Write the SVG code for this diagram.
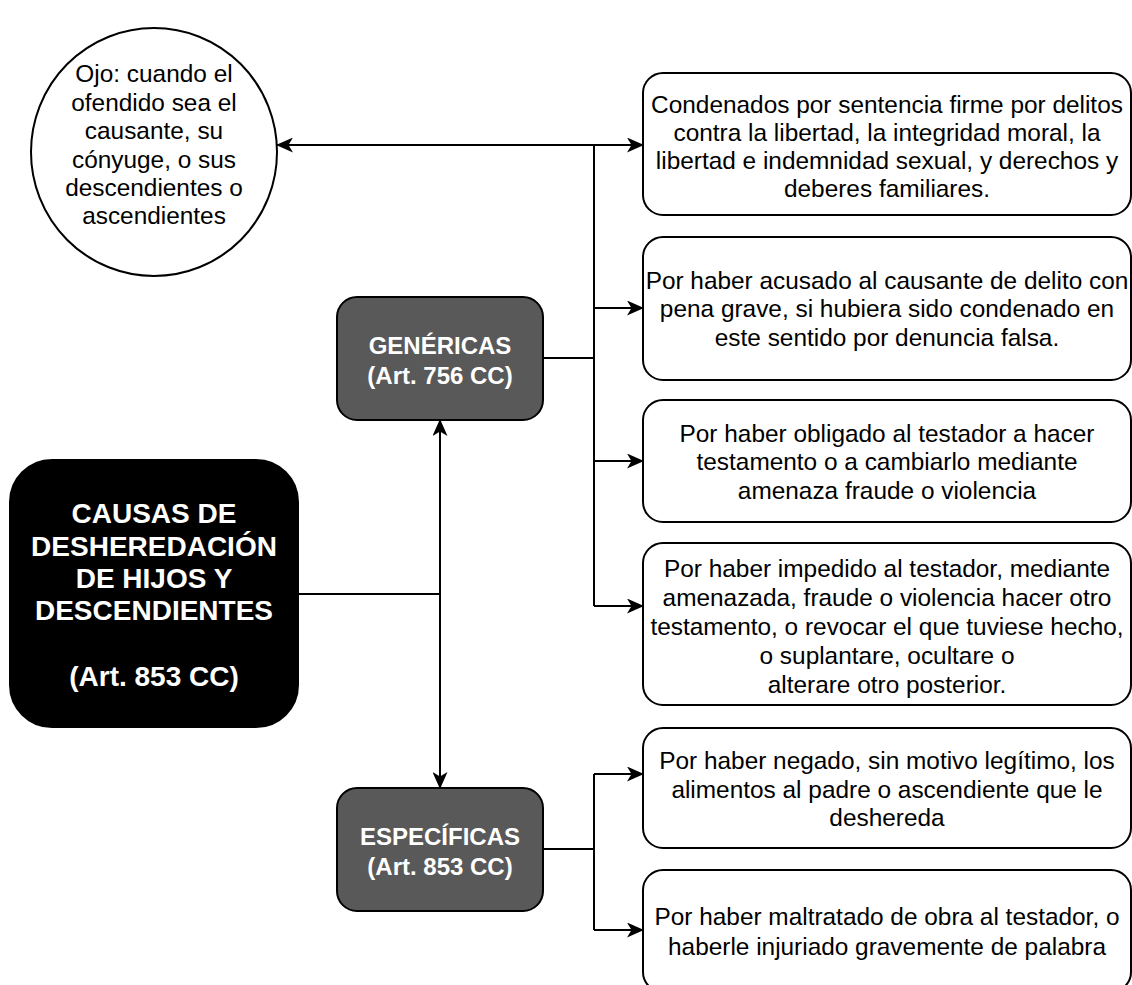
<svg xmlns="http://www.w3.org/2000/svg" width="1132" height="985" viewBox="0 0 1132 985">
<style>
.t{font-family:"Liberation Sans",Arial,sans-serif;font-size:24.4px;fill:#000;text-anchor:middle;dominant-baseline:central}
.w{font-family:"Liberation Sans",Arial,sans-serif;font-weight:bold;fill:#fff;text-anchor:middle;dominant-baseline:central}
.box{fill:#fff;stroke:#000;stroke-width:2}
.grey{fill:#595959;stroke:#000;stroke-width:2}
.ln{fill:none;stroke:#000;stroke-width:2}
</style>
<defs>
<marker id="ah" viewBox="0 0 17 15" refX="16" refY="7.5" markerWidth="17" markerHeight="15" markerUnits="userSpaceOnUse" orient="auto-start-reverse">
<path d="M0,0 L17,7.5 L0,15 L4.5,7.5 Z" fill="#000"/>
</marker>
</defs>
<rect width="1132" height="985" fill="#fff"/>
<g id="connectors">
<path class="ln" d="M277,145 L643,145" marker-start="url(#ah)" marker-end="url(#ah)"/>
<path class="ln" d="M543,358 L594,358"/>
<path class="ln" d="M594,145 L594,606"/>
<path class="ln" d="M594,308 L643,308" marker-end="url(#ah)"/>
<path class="ln" d="M594,461 L643,461" marker-end="url(#ah)"/>
<path class="ln" d="M594,606 L643,606" marker-end="url(#ah)"/>
<path class="ln" d="M298,594 L440,594"/>
<path class="ln" d="M440,420 L440,788" marker-start="url(#ah)" marker-end="url(#ah)"/>
<path class="ln" d="M543,849 L594,849"/>
<path class="ln" d="M594,774 L594,930"/>
<path class="ln" d="M594,774 L643,774" marker-end="url(#ah)"/>
<path class="ln" d="M594,930 L643,930" marker-end="url(#ah)"/>
</g>
<g id="note">
<ellipse class="box" cx="154" cy="152" rx="123" ry="124"/>
<text class="t"><tspan x="154" y="73">Ojo: cuando el</tspan><tspan x="154" y="101.5">ofendido sea el</tspan><tspan x="154" y="130">causante, su</tspan><tspan x="154" y="158.5">cónyuge, o sus</tspan><tspan x="154" y="187">descendientes o</tspan><tspan x="154" y="215">ascendientes</tspan></text>
</g>
<g id="main">
<rect x="10" y="460" width="288" height="267" rx="42" ry="42" fill="#000" stroke="#000" stroke-width="2"/>
<text class="w" style="font-size:28px"><tspan x="154" y="513">CAUSAS DE</tspan><tspan x="154" y="546">DESHEREDACIÓN</tspan><tspan x="154" y="578">DE HIJOS Y</tspan><tspan x="154" y="610">DESCENDIENTES</tspan><tspan x="154" y="676">(Art. 853 CC)</tspan></text>
</g>
<g id="genericas">
<rect class="grey" x="337" y="297" width="206" height="123" rx="20" ry="20"/>
<text class="w" style="font-size:24px"><tspan x="440" y="345">GENÉRICAS</tspan><tspan x="440" y="375">(Art. 756 CC)</tspan></text>
</g>
<g id="especificas">
<rect class="grey" x="337" y="788" width="206" height="123" rx="20" ry="20"/>
<text class="w" style="font-size:24px"><tspan x="440" y="836">ESPECÍFICAS</tspan><tspan x="440" y="866">(Art. 853 CC)</tspan></text>
</g>
<g id="c1">
<rect class="box" x="643" y="73" width="488" height="142" rx="20" ry="20"/>
<text class="t"><tspan x="887" y="104">Condenados por sentencia firme por delitos</tspan><tspan x="887" y="132">contra la libertad, la integridad moral, la</tspan><tspan x="887" y="160">libertad e indemnidad sexual, y derechos y</tspan><tspan x="887" y="188">deberes familiares.</tspan></text>
</g>
<g id="c2">
<rect class="box" x="643" y="237" width="488" height="143" rx="20" ry="20"/>
<text class="t"><tspan x="887" y="280">Por haber acusado al causante de delito con</tspan><tspan x="887" y="308">pena grave, si hubiera sido condenado en</tspan><tspan x="887" y="337">este sentido por denuncia falsa.</tspan></text>
</g>
<g id="c3">
<rect class="box" x="643" y="400" width="488" height="122" rx="20" ry="20"/>
<text class="t"><tspan x="887" y="433">Por haber obligado al testador a hacer</tspan><tspan x="887" y="461">testamento o a cambiarlo mediante</tspan><tspan x="887" y="490">amenaza fraude o violencia</tspan></text>
</g>
<g id="c4">
<rect class="box" x="643" y="543" width="488" height="162" rx="20" ry="20"/>
<text class="t"><tspan x="887" y="568">Por haber impedido al testador, mediante</tspan><tspan x="887" y="597">amenazada, fraude o violencia hacer otro</tspan><tspan x="887" y="626">testamento, o revocar el que tuviese hecho,</tspan><tspan x="887" y="655">o suplantare, ocultare o</tspan><tspan x="887" y="684">alterare otro posterior.</tspan></text>
</g>
<g id="c5">
<rect class="box" x="643" y="728" width="488" height="120" rx="20" ry="20"/>
<text class="t"><tspan x="887" y="760">Por haber negado, sin motivo legítimo, los</tspan><tspan x="887" y="789">alimentos al padre o ascendiente que le</tspan><tspan x="887" y="817">deshereda</tspan></text>
</g>
<g id="c6">
<rect class="box" x="643" y="870" width="488" height="122" rx="20" ry="20"/>
<text class="t"><tspan x="887" y="916">Por haber maltratado de obra al testador, o</tspan><tspan x="887" y="946">haberle injuriado gravemente de palabra</tspan></text>
</g>
</svg>
